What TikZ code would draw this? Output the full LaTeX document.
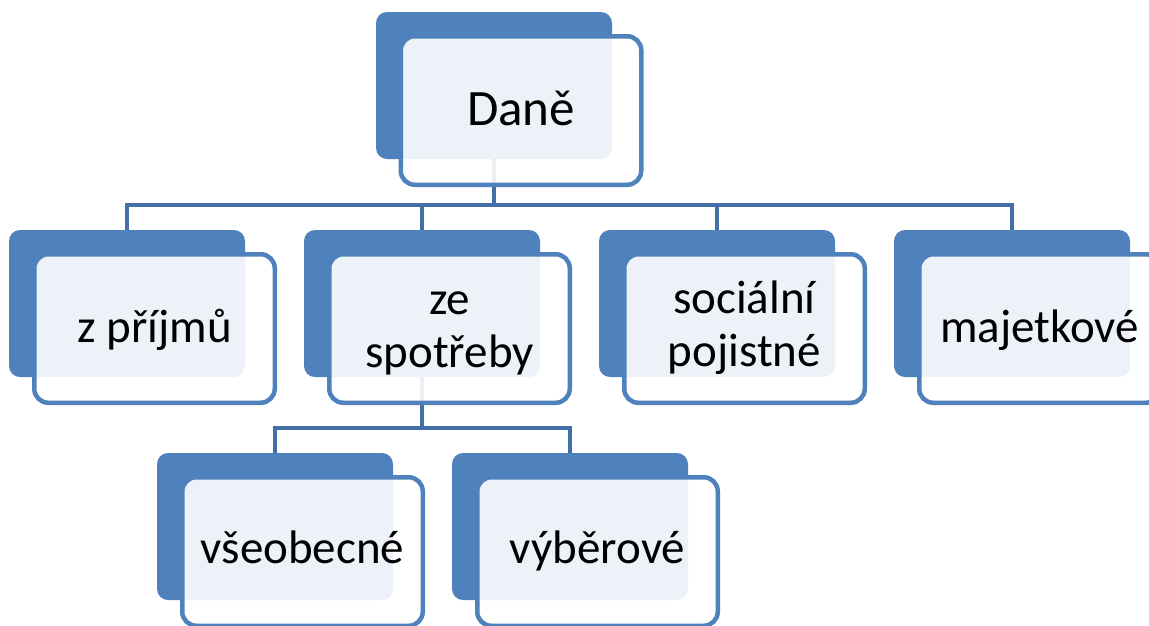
\documentclass[tikz,border=0pt]{standalone}
\usepackage{fontspec}
\setmainfont{Carlito}
\definecolor{sablue}{RGB}{79,129,189}
\definecolor{connblue}{RGB}{66,111,166}
\tikzset{
  backbox/.style={fill=sablue, draw=none, rounded corners=11pt, minimum width=236pt, minimum height=147pt, inner sep=0pt},
  frontbox/.style={draw=sablue, line width=4.5pt, fill=white, fill opacity=0.9, rounded corners=14pt, minimum width=240.5pt, minimum height=148.5pt, inner sep=0pt},
  conn/.style={draw=connblue, line width=4.5pt},
  lbl/.style={text=black, font=\fontsize{47}{53}\selectfont, align=center, anchor=base, inner sep=0pt},
}
\begin{document}
\begin{tikzpicture}[x=1pt,y=-1pt]
\useasboundingbox (0,0) rectangle (1149,625);
\clip (0,0) rectangle (1149,625);
% connectors' junctions
\coordinate (j1) at (494,205);
\coordinate (j2) at (422,428);
% back boxes
\node[backbox] (b0) at (494,85.5) {};
\node[backbox] (b1) at (127,303.5) {};
\node[backbox] (b2) at (422,303.5) {};
\node[backbox] (b3) at (717,303.5) {};
\node[backbox] (b4) at (1012,303.5) {};
\node[backbox] (b5) at (275,526.5) {};
\node[backbox] (b6) at (570,526.5) {};
% connectors
\draw[conn] (b0) -- (j1);
\draw[conn] (j1) -| (b1);
\draw[conn] (j1) -| (b2);
\draw[conn] (j1) -| (b3);
\draw[conn] (j1) -| (b4);
\draw[conn] (b2) -- (j2);
\draw[conn] (j2) -| (b5);
\draw[conn] (j2) -| (b6);
% front boxes
\node[frontbox] (f0) at (521,110.5) {};
\node[frontbox] (f1) at (154.5,328.5) {};
\node[frontbox] (f2) at (449.5,328.5) {};
\node[frontbox] (f3) at (744.5,328.5) {};
\node[frontbox] (f4) at (1039.5,328.5) {};
\node[frontbox] (f5) at (302.5,551.5) {};
\node[frontbox] (f6) at (597.5,551.5) {};
% labels
\node[lbl, font=\fontsize{51}{56}\selectfont] (t0) at (521,125) {Daně};
\node[lbl] (t1) at (154.5,342) {z příjmů};
\node[lbl] (t2) at (449.5,367) {ze\\spotřeby};
\node[lbl] (t3) at (744.5,366) {sociální\\pojistné};
\node[lbl] (t4) at (1039.5,342) {majetkové};
\node[lbl] (t5) at (302.5,563) {všeobecné};
\node[lbl] (t6) at (597.5,563) {výběrové};
\end{tikzpicture}
\end{document}
